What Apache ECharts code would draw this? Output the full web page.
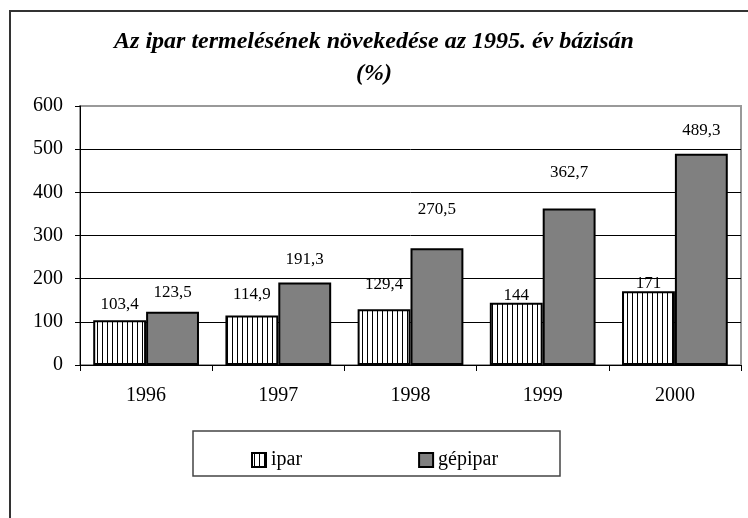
<!DOCTYPE html>
<html>
<head>
<meta charset="utf-8">
<script src="https://cdn.jsdelivr.net/npm/echarts@6/dist/echarts.min.js"></script>
<style>
html,body{margin:0;padding:0;background:#fff;}
#c{width:748px;height:518px;}
</style>
</head>
<body>
<div id="c"></div>
<script>
const categories = ['1996', '1997', '1998', '1999', '2000'];
const iparValues = [103.4, 114.9, 129.4, 144, 171];
const gepiparValues = [123.5, 191.3, 270.5, 362.7, 489.3];
const seriesNames = ['ipar', 'gépipar'];
const yTicks = [0, 100, 200, 300, 400, 500, 600];
// label gap above bar (style only)
const iparLabelGap = [1, 6, 10, -7, -7];
const gepiparLabelGap = [5, 8, 24, 21, 9];

const FONT = '"Liberation Serif", "Times New Roman", serif';

function stripePattern() {
  const cv = document.createElement('canvas');
  cv.width = 5; cv.height = 10;
  const ctx = cv.getContext('2d');
  ctx.fillStyle = '#fff';
  ctx.fillRect(0, 0, 5, 10);
  ctx.fillStyle = '#000';
  ctx.fillRect(2, 0, 1, 10);
  return cv;
}
const pat = { image: stripePattern(), repeat: 'repeat' };

function fmt(v) { return String(v).replace('.', ','); }

const chart = echarts.init(document.getElementById('c'), null, { renderer: 'canvas' });
chart.setOption({
  animation: false,
  backgroundColor: '#fff',
  title: {
    text: 'Az ipar termelésének növekedése az 1995. év bázisán\n(%)',
    left: 'center',
    top: 21,
    textStyle: {
      fontFamily: FONT, fontSize: 24, fontWeight: 'bold', fontStyle: 'italic',
      color: '#000', lineHeight: 32
    }
  },
  graphic: [
    { type: 'rect', shape: { x: 10, y: 11, width: 760, height: 530 },
      style: { fill: 'none', stroke: '#333', lineWidth: 2 }, z: 0 },
    { type: 'rect', shape: { x: 193, y: 431, width: 367, height: 45 },
      style: { fill: '#fff', stroke: '#444', lineWidth: 1.5 }, z: 1 }
  ],
  legend: {
    data: seriesNames,
    icon: 'rect',
    left: 246,
    top: 445,
    itemGap: 116,
    itemWidth: 14,
    itemHeight: 14,
    itemStyle: { borderColor: '#000', borderWidth: 2 },
    textStyle: { fontFamily: FONT, fontSize: 20, color: '#000', padding: [0, 0, 0, 0] },
    z: 5
  },
  grid: {
    left: 80, right: 7, top: 106, bottom: 153,
    show: true, borderColor: '#999', borderWidth: 2, backgroundColor: 'transparent'
  },
  xAxis: {
    type: 'category',
    data: categories,
    axisLine: { show: true, lineStyle: { color: '#000', width: 1 } },
    axisTick: { show: true, length: 6, lineStyle: { color: '#000' } },
    axisLabel: { fontFamily: FONT, fontSize: 20, color: '#000', margin: 21 }
  },
  yAxis: {
    type: 'value',
    min: yTicks[0],
    max: yTicks[yTicks.length - 1],
    interval: yTicks[1] - yTicks[0],
    axisLine: { show: true, lineStyle: { color: '#000', width: 1 } },
    axisTick: { show: true, length: 5, lineStyle: { color: '#000' } },
    axisLabel: { fontFamily: FONT, fontSize: 20, color: '#000', margin: 17 },
    splitLine: { show: true, lineStyle: { color: ['#000', '#000', '#000', '#000', '#000', '#000', '#999'], width: 1 } }
  },
  series: [
    {
      name: seriesNames[0],
      type: 'bar',
      data: iparValues.map((v, i) => ({ value: v, label: { distance: 6 + iparLabelGap[i] } })),
      barGap: '0%',
      barCategoryGap: '20%',
      itemStyle: { color: pat, borderColor: '#000', borderWidth: 2 },
      label: {
        show: true, position: 'top', fontFamily: FONT, fontSize: 17, color: '#000',
        formatter: p => fmt(p.value)
      }
    },
    {
      name: seriesNames[1],
      type: 'bar',
      data: gepiparValues.map((v, i) => ({ value: v, label: { distance: 6 + gepiparLabelGap[i] } })),
      barGap: '0%',
      barCategoryGap: '20%',
      itemStyle: { color: '#808080', borderColor: '#000', borderWidth: 2 },
      label: {
        show: true, position: 'top', fontFamily: FONT, fontSize: 17, color: '#000',
        formatter: p => fmt(p.value)
      }
    }
  ]
});
</script>
</body>
</html>
